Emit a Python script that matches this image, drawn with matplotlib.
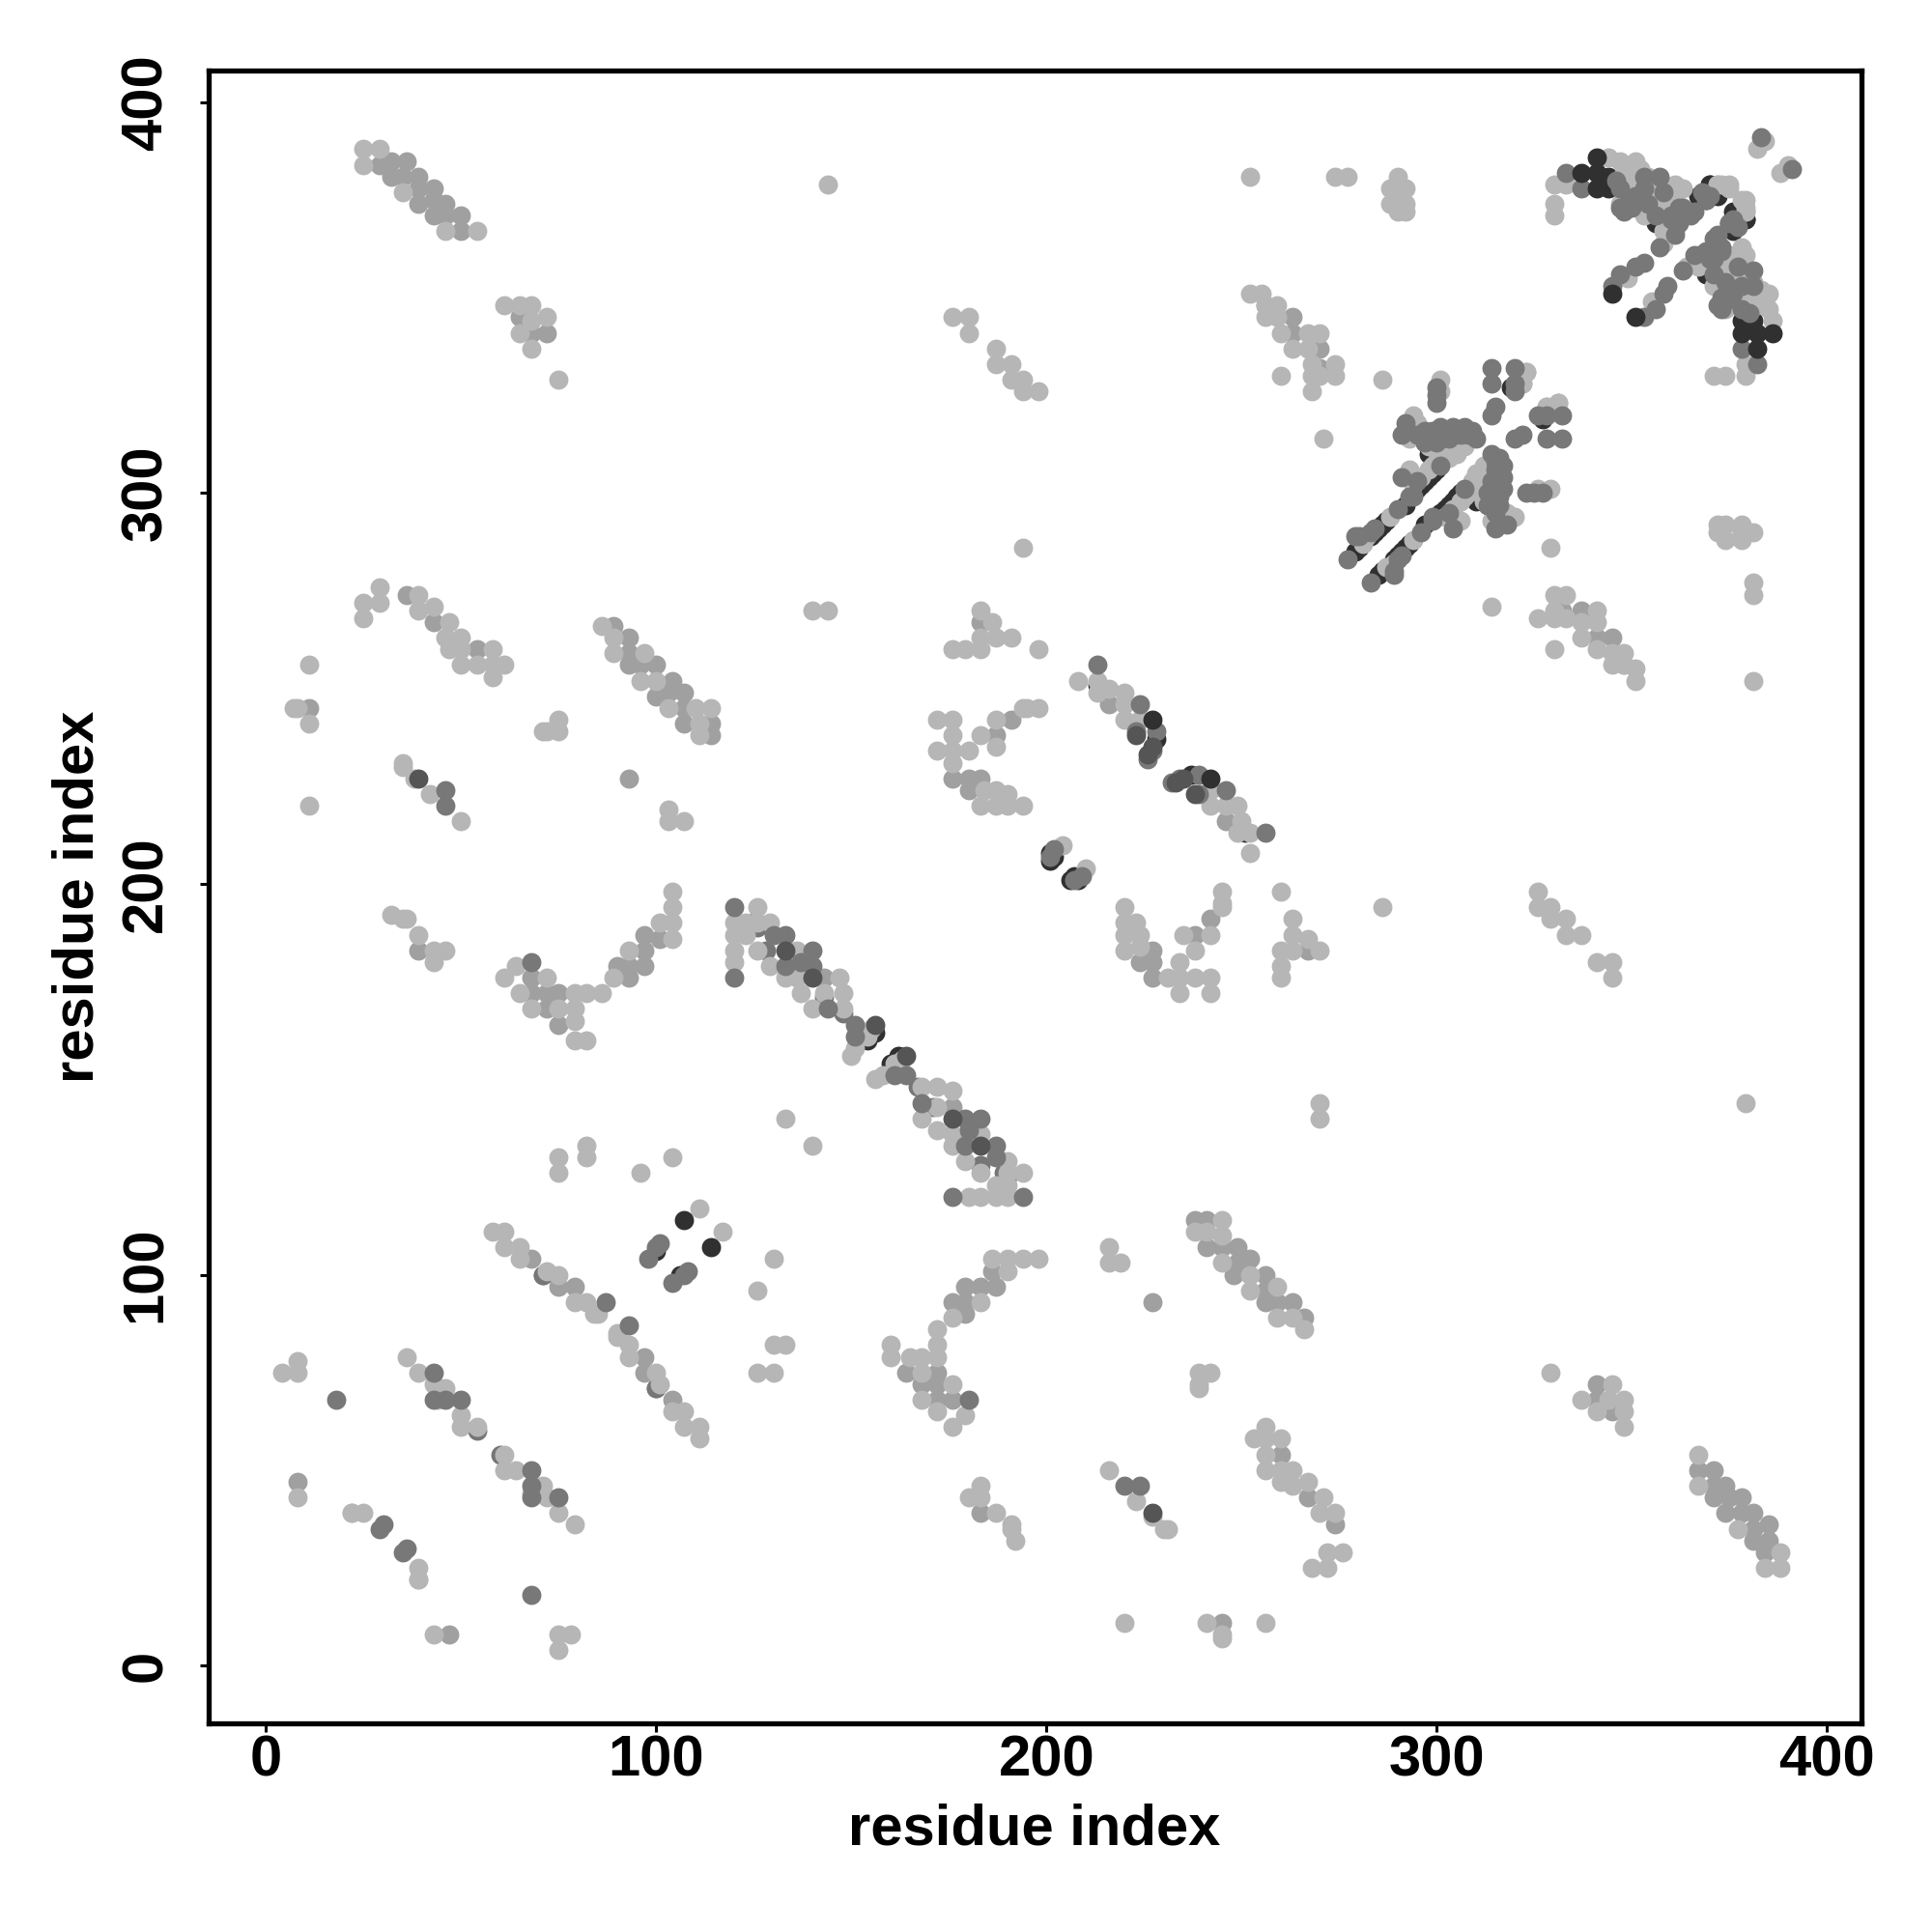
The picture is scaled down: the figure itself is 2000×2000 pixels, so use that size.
import matplotlib
matplotlib.use('Agg')
import matplotlib.pyplot as plt

# contacts (i, j) with i < j; the map is symmetric so both sides get drawn
light = [
    (25,388),(29,388),(25,384),(35,377),(46,367),(54,367),
    (61,348),(65,348),(68,348),(72,345),(68,344),(65,341),(68,337),(75,329),
    (29,276),(29,272),(25,268),(39,274),(39,270),(43,271),(47,267),(46,263),(50,263),(47,260),(50,260),(58,260),
    (50,256),(54,256),(58,256),(61,256),(58,253),(25,272),
    (11,256),(7,245),(8,245),(11,241),(11,220),(35,231),(35,230),(38,227),(42,223),(50,216),
    (86,266),(89,263),(89,259),(97,259),(96,252),(100,252),(103,245),(110,245),(114,245),(111,241),(111,238),
    (71,239),(72,239),(75,242),(75,239),(103,219),(103,216),(107,216),
    (32,192),(35,191),(36,191),(39,187),(43,183),(46,183),(43,180),
    (61,176),(64,179),(72,176),(65,172),(79,172),(82,172),(86,172),
    (68,168),(75,168),(79,168),(79,165),(79,160),(82,160),
    (89,176),(93,183),(101,190),(104,186),(104,190),(104,194),(104,198),
    (4,75),(8,75),(8,78),(36,79),(39,75),(43,72),(46,71),(44,68),(50,64),(50,61),(54,61),(8,43),(22,39),(25,39),(39,22),
    (58,111),(61,111),(61,107),(65,107),(65,104),(72,101),(75,100),(79,93),(82,93),(84,90),(85,90),
    (111,117),(75,130),(75,126),(82,133),(82,130),(96,126),(104,130),(133,140),
    (144,379),(176,345),(180,345),(180,341),(187,337),(187,333),(191,333),(191,329),(194,329),(194,326),(198,326),(194,286),
    (252,381),(274,381),(277,381),(290,381),(288,378),(292,378),(290,378),(288,374),(292,374),(290,372),(292,372),
    (330,379),(333,379),(330,374),(330,371),
    (252,351),(255,351),(256,348),(256,345),(259,348),(259,345),(260,341),(263,337),(267,341),(270,341),(267,337),
    (268,333),(274,333),(268,330),(270,330),(274,330),(268,326),(260,330),(286,329),(271,314),(140,270),(144,270),
    (126,194),(120,190),(123,190),(126,190),(129,190),(120,187),(123,187),(120,183),(120,180),(126,183),(129,179),
    (136,183),(133,176),(136,176),(137,172),(147,176),(143,172),(148,172),(140,168),(148,168),(155,163),(154,161),(150,156),(151,158),
    (183,270),(186,267),(183,263),(187,263),(191,263),(176,260),(179,260),(183,260),(198,260),
    (172,242),(176,242),(176,238),(172,234),(176,234),(180,234),(176,231),(184,224),(187,224),(190,223),(183,220),(187,220),(190,220),(194,220),
    (187,242),(194,245),(195,245),(198,245),(183,238),(187,235),
    (204,210),(208,252),(213,252),(213,249),(216,250),(220,249),(220,246),(220,242),(224,242),
    (294,320),(293,316),(303,310),(305,311),(307,314),(301,329),(301,326),(293,306),(299,307),(282,289),
    (294,318),(298,312),(300,311),(302,312),(322,328),(323,331),(328,322),(331,323),(373,379),
    (344,386),(347,385),(351,385),(348,382),(351,377),(353,372),(358,379),(361,379),(361,375),(359,366),(358,364),
    (379,372),(382,388),(384,390),(349,355),
    (296,304),(298,306),(300,308),(302,310),(304,312),(306,314),(294,302),(301,309),(303,309),(305,310),(307,312),(309,314),
    (295,318),(293,314),(294,316),(281,287),(288,294),
    (349,384),(352,383),(354,381),(356,379),(352,380),(350,375),(347,374),(355,375),(357,374),(363,378),(360,372),
    (361,367),(360,368),(358,367),(372,379),(375,379),(378,375),(360,376),(353,371),(362,370),
    (349,380),(355,378),(359,372),
]

soft = [
    (29,384),(32,385),(36,385),(32,381),(35,381),(39,381),(39,378),(43,378),(39,374),(43,375),(46,374),(43,371),(46,371),(50,371),(50,367),
    (65,345),(68,341),(72,341),(36,274),(43,267),(54,260),(11,245),(93,227),
    (89,266),(93,263),(93,259),(93,256),(96,256),(100,256),(104,252),(100,248),(103,249),(107,249),(107,245),(107,241),(114,241),(114,238),
    (39,183),(68,176),(68,172),(72,172),(75,172),(72,168),(75,164),
    (90,179),(93,176),(93,179),(97,179),(97,183),(97,187),(101,186),
    (8,47),(68,104),(75,97),(79,97),(143,176),
    (256,348),(263,345),(263,341),(270,337),(270,332),
    (183,267),(180,227),(183,227),(176,227),(180,224),(191,242),(187,238),(216,246),
]

mid_low = [
    (54,60),(71,100),(126,189),(128,183),(143,171),(148,167),(125,190),(100,71),
]

mid = [
    (46,224),(46,220),(68,180),(43,75),(43,68),(46,68),(50,68),(18,68),(29,35),(30,36),(87,93),
    (98,104),(100,107),(101,108),
    (120,194),(120,176),(130,187),(133,187),(140,183),(133,179),(137,180),(140,179),(144,168),(151,164),(151,161),
    (213,256),(224,246),(223,239),(228,239),(227,234),(226,232),(201,207),(202,209),
    (277,283),(279,289),(284,291),(290,296),(293,299),(295,303),(301,307),(291,315),(297,316),(300,315),(302,315),(305,316),(308,315),
    (295,315),(299,316),(304,315),(306,315),(300,325),(300,323),(300,327),
    (314,332),(314,328),(315,322),(314,320),(320,332),(320,326),(320,328),
    (333,382),(337,378),(347,378),(349,374),(353,381),(357,381),(353,378),(356,371),(363,371),(362,369),(364,372),(357,363),
    (369,375),(376,370),(383,391),(345,353),(347,356),(351,358),(353,359),
    (280,289),(283,290),(294,299),(291,304),(292,318),(297,313),(300,313),(303,314),(306,316),(309,316),(310,314),(301,317),(304,317),(307,317),
    (346,380),(351,376),(354,374),(360,370),(358,377),
    (362,373),(365,371),(361,366),(366,372),(363,373),(368,377),(347,373),(348,372),(350,373),(360,371),
]

deep = [
    (39,227),(133,183),(140,176),(156,164),(223,238),(226,233),(227,235),
]

dark = [
    (100,106),(154,160),(156,162),(201,208),(201,206),(202,207),(213,251),(228,237),
    (279,285),(284,290),(286,292),(295,301),(295,304),(298,304),(298,310),(301,310),(297,313),(306,313),
    (319,327),(322,330),(344,381),(344,378),(356,377),(359,374),(359,370),(369,376),(370,379),(375,369),(379,370),
    (280,286),(283,289),(285,291),(287,293),(292,297),(294,300),(296,302),(297,303),(299,305),(300,306),
    (354,380),(356,376),(357,378),(358,372),(359,376),(361,371),(367,376),(376,372),(356,369),
]

# these sit on top of the lighter points
dark_top = [
    (107,114),(227,242),(337,382),(341,386),(341,382),(341,378),(345,351),
]

layers = [
    (dark, '#303030'),
    (mid_low, '#767676'),
    (soft, '#a0a0a0'),
    (light, '#b6b6b6'),
    (mid, '#787878'),
    (deep, '#555555'),
    (dark_top, '#303030'),
]

tick_vals = [0, 100, 200, 300, 400]

fig = plt.figure(figsize=(20, 20), dpi=100)
ax = fig.add_axes([216/2000, 1-1784/2000, (1927-216)/2000, (1784-72.7)/2000])

for pts, col in layers:
    i = [p[0] for p in pts]
    j = [p[1] for p in pts]
    ax.scatter(i+j, j+i, s=205, c=col, linewidths=0, zorder=3)

ax.set_xlim(-14.7, 408.8)
ax.set_ylim(-14.8, 408.2)
ax.set_xticks(tick_vals)
ax.set_yticks(tick_vals)

font = dict(family='Liberation Sans', weight='bold', size=43)
ax.set_xticklabels(tick_vals, **font)
ax.set_yticklabels(tick_vals, rotation=90, va='center', **font)
ax.tick_params(length=6.5, width=2.2, pad=2)
ax.tick_params(axis='y', pad=20)
for s in ax.spines.values():
    s.set_linewidth(3.8)

fig.text(1071/2000, 1-1894/2000, 'residue index', ha='center', va='center', **font)
fig.text(81/2000, 1-928/2000, 'residue index', ha='center', va='center', rotation=90, **font)

fig.savefig('out.png', dpi=100)
